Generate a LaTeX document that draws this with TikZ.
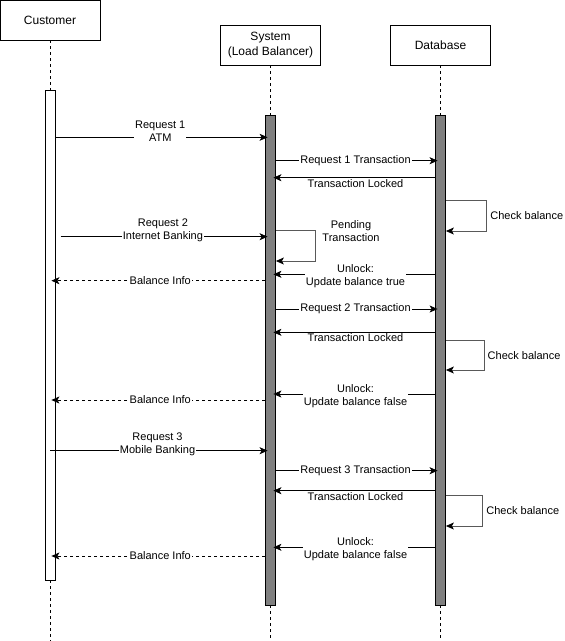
\documentclass[tikz,border=0pt]{standalone}
\usepackage{fontspec}
\setmainfont{Liberation Sans}
\usetikzlibrary{arrows.meta}
\begin{document}
\begin{tikzpicture}[x=1pt,y=-1pt,
		font=\fontsize{11}{13}\selectfont,
		actor/.style={draw, line width=0.8pt, minimum width=100pt, minimum height=40pt, align=center, font=\fontsize{12}{15}\selectfont},
		bar/.style={draw, line width=0.8pt, fill=#1, minimum width=10pt, minimum height=490pt, inner sep=0pt},
		lifeline/.style={line width=0.8pt, dash pattern=on 3pt off 3pt},
		msg/.style={line width=0.8pt, -{Stealth[length=8pt,width=7pt,inset=2pt]}, shorten >=-2.5pt},
		reply/.style={msg, dash pattern=on 3pt off 3pt, shorten >=-4pt},
		selfcall/.style={line width=0.8pt, draw=black!65, -{Stealth[length=8pt,width=7pt,inset=2pt,black]}},
		lbl/.style={fill=white, inner sep=1pt, align=center}]
	\useasboundingbox (0,0) rectangle (565,641);
	\node[actor] (cust) at (50,20) {Customer};
	\node[actor] (sys) at (270.5,45) {System\\(Load Balancer)};
	\node[actor] (db) at (440.5,45) {Database};
	\node[bar=white] (custbar) at (50,335) {};
	\node[bar=gray] (sysbar) at (270.5,360) {};
	\node[bar=gray] (dbbar) at (440.5,360) {};
	\coordinate (custend) at (50,641);
	\coordinate (sysend) at (270.5,641);
	\coordinate (dbend) at (440.5,641);
	\coordinate (req2start) at (60.7,236.7);
	\draw[lifeline] (cust) -- (custbar);
	\draw[lifeline] (sys) -- (sysbar);
	\draw[lifeline] (db) -- (dbbar);
	\draw[lifeline] (custbar) -- (custend);
	\draw[lifeline] (sysbar) -- (sysend);
	\draw[lifeline] (dbbar) -- (dbend);

	\draw[msg] (custbar.east |- 0,137.3) -- node[lbl, yshift=6.5pt] (req1) {Request 1\\ATM} (sysbar.west |- 0,137.3);
	\draw[msg] (sysbar.east |- 0,160.7) -- node[lbl] (tr1) {Request 1 Transaction} (dbbar.west |- 0,160.7);
	\draw[msg] (dbbar.west |- 0,177.7) -- node[below, inner sep=1pt] (lock1) {Transaction Locked} (sysbar.east |- 0,177.7);
	\draw[selfcall] (dbbar.east |- 0,200.7) -- (486.7,200.7) -- node[right, text=black] (chk1) {Check balance} (486.7,231) -- (dbbar.east |- 0,231);
	\draw[msg] (req2start) -- node[lbl, yshift=6.5pt] (req2) {Request 2\\Internet Banking} (sysbar.west |- req2start);
	\draw[selfcall] (sysbar.east |- 0,230.7) -- (315.7,230.7) -- (315.7,261) -- (sysbar.east |- 0,261);
	\node[align=center] (pend) at (351,231) {Pending\\Transaction};
	\draw[msg] (dbbar.west |- 0,274.3) -- node[lbl, yshift=-1.7pt] (unl1) {Unlock:\\Update balance true} (sysbar.east |- 0,274.3);
	\draw[reply] (sysbar.west |- 0,280.7) -- node[lbl] (bal1) {Balance Info} (custbar.east |- 0,280.7);

	\draw[msg] (sysbar.east |- 0,309) -- node[lbl] (tr2) {Request 2 Transaction} (dbbar.west |- 0,309);
	\draw[msg] (dbbar.west |- 0,332.3) -- node[below, inner sep=1pt] (lock2) {Transaction Locked} (sysbar.east |- 0,332.3);
	\draw[selfcall] (dbbar.east |- 0,340.7) -- (484,340.7) -- node[right, text=black] (chk2) {Check balance} (484,370) -- (dbbar.east |- 0,370);
	\draw[msg] (dbbar.west |- 0,394) -- node[lbl, yshift=-1.7pt] (unl2) {Unlock:\\Update balance false} (sysbar.east |- 0,394);
	\draw[reply] (sysbar.west |- 0,400) -- node[lbl] (bal2) {Balance Info} (custbar.east |- 0,400);

	\draw[msg] (custbar.center |- 0,450.7) -- node[lbl, yshift=6.5pt] (req3) {Request 3\\Mobile Banking} (sysbar.west |- 0,450.7);
	\draw[msg] (sysbar.east |- 0,470.7) -- node[lbl] (tr3) {Request 3 Transaction} (dbbar.west |- 0,470.7);
	\draw[msg] (dbbar.west |- 0,490.7) -- node[below, inner sep=1pt] (lock3) {Transaction Locked} (sysbar.east |- 0,490.7);
	\draw[selfcall] (dbbar.east |- 0,495.7) -- (482.7,495.7) -- node[right, text=black] (chk3) {Check balance} (482.7,526) -- (dbbar.east |- 0,526);
	\draw[msg] (dbbar.west |- 0,547.3) -- node[lbl, yshift=-2.2pt] (unl3) {Unlock:\\Update balance false} (sysbar.east |- 0,547.3);
	\draw[reply] (sysbar.west |- 0,556) -- node[lbl] (bal3) {Balance Info} (custbar.east |- 0,556);
\end{tikzpicture}
\end{document}
